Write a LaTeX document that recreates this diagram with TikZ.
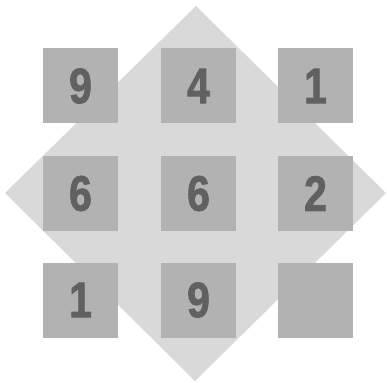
\documentclass[tikz,border=0pt]{standalone}
\usepackage{fontspec}
\newfontfamily\digitfont[FakeStretch=0.82,FakeBold=1.5]{Liberation Sans Bold}
\definecolor{diamondgray}{gray}{0.85}
\definecolor{cellgray}{gray}{0.70}
\definecolor{digitgray}{gray}{0.38}
\tikzset{cell/.style={fill=cellgray,minimum size=75pt,inner sep=0pt,text=digitgray,font=\digitfont\fontsize{50}{50}\selectfont}}

\begin{document}
\begin{tikzpicture}[x=1pt,y=-1pt]
\useasboundingbox (0,0) rectangle (387,382);
\fill[diamondgray] (196,6)--(386,193)--(195,381)--(5,193)--cycle;
\foreach \n/\x/\y/\d in {a/80.5/86/9,b/198.5/86/4,c/315.5/86/1,d/80.5/193.5/6,e/198.5/193.5/6,f/315.5/193.5/2,g/80.5/300/1,h/198.5/300/9,i/315.5/300/{}}{\node[cell] (\n) at (\x,\y){\d};}
\end{tikzpicture}
\end{document}
